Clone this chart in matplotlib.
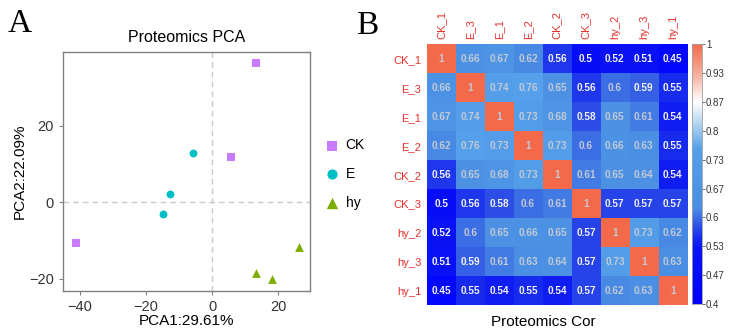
import numpy as np
import matplotlib
matplotlib.use('Agg')
import matplotlib.pyplot as plt
from matplotlib.colors import LinearSegmentedColormap, Normalize

plt.rcParams['font.family'] = ['Liberation Sans', 'DejaVu Sans']

# PCA scores per group
groups = ['CK', 'E', 'hy']
group_colors = ['#C77CFF', '#00BFC4', '#7CAE00']
group_markers = ['s', 'o', '^']
pc1 = {'CK': [13.2, 5.8, -41.4], 'E': [-5.8, -12.7, -14.8], 'hy': [26.4, 13.2, 18.3]}
pc2 = {'CK': [36.2, 11.7, -10.6], 'E': [12.8, 2.1, -3.1], 'hy': [-11.8, -18.4, -20.0]}

# correlation matrix
samples = ['CK_1', 'E_3', 'E_1', 'E_2', 'CK_2', 'CK_3', 'hy_2', 'hy_3', 'hy_1']
cor = np.array([
    [1, 0.66, 0.67, 0.62, 0.56, 0.5, 0.52, 0.51, 0.45],
    [0.66, 1, 0.74, 0.76, 0.65, 0.56, 0.6, 0.59, 0.55],
    [0.67, 0.74, 1, 0.73, 0.68, 0.58, 0.65, 0.61, 0.54],
    [0.62, 0.76, 0.73, 1, 0.73, 0.6, 0.66, 0.63, 0.55],
    [0.56, 0.65, 0.68, 0.73, 1, 0.61, 0.65, 0.64, 0.54],
    [0.5, 0.56, 0.58, 0.6, 0.61, 1, 0.57, 0.57, 0.57],
    [0.52, 0.6, 0.65, 0.66, 0.65, 0.57, 1, 0.73, 0.62],
    [0.51, 0.59, 0.61, 0.63, 0.64, 0.57, 0.73, 1, 0.63],
    [0.45, 0.55, 0.54, 0.55, 0.54, 0.57, 0.62, 0.63, 1],
])
cbar_ticks = np.linspace(0.4, 1, 10)

fig = plt.figure(figsize=(7.29, 3.34), dpi=100)

# ---- panel A: PCA ----
ax = fig.add_axes([63/729, 1 - 291/334, 247/729, 239/334])
ax.axvline(0, color='#C8C8C8', ls=(0, (4, 3)), lw=1, zorder=0)
ax.axhline(0, color='#C8C8C8', ls=(0, (4, 3)), lw=1, zorder=0)
for g, c, m in zip(groups, group_colors, group_markers):
    size = 40 if m == '^' else 32
    ax.scatter(pc1[g], pc2[g], c=c, marker=m, s=size, label=g, linewidths=0)
ax.set_xlim(-45.2, 29.7)
ax.set_ylim(-23.2, 39.2)
ax.set_xticks([-40, -20, 0, 20])
ax.set_yticks([-20, 0, 20])
for s in ax.spines.values():
    s.set_color('#808080')
    s.set_linewidth(1)
ax.tick_params(colors='#808080', labelcolor='#333333', labelsize=10.5, length=3)
ax.set_xlabel('PCA1:29.61%', fontsize=11, labelpad=0)
ax.set_ylabel('PCA2:22.09%', fontsize=11, labelpad=2)
ax.set_title('Proteomics PCA', fontsize=11.5, pad=7)
fig.legend(loc='center left', bbox_to_anchor=(311/729, 1 - 174/334), frameon=False,
           fontsize=10, handletextpad=0.4, labelspacing=1.05, markerscale=1.3,
           handlelength=1.2)

fig.text(8/729, 1 - 8/334, 'A', family='Liberation Serif', fontsize=24, va='top', ha='left')
fig.text(356/729, 1 - 10/334, 'B', family='Liberation Serif', fontsize=24, va='top', ha='left')

# ---- panel B: correlation heatmap ----
cmap = LinearSegmentedColormap.from_list('cor', [
    (0.0, '#0000FF'),
    (0.22, '#0A14F5'),
    (0.30, '#2E50E6'),
    (0.37, '#4A8EE3'),
    (0.60, '#55A0EA'),
    (0.70, '#B8D8F2'),
    (0.78, '#FFFFFF'),
    (0.88, '#F6B3A4'),
    (1.0, '#F4694A'),
])
norm = Normalize(vmin=0.4, vmax=1)
hax = fig.add_axes([426.7/729, 1 - 305/334, 260.6/729, 260.7/334])
im = hax.imshow(cor, cmap=cmap, norm=norm, aspect='auto', interpolation='nearest')
n = len(samples)
for i in range(n):
    for j in range(n):
        v = cor[i, j]
        txt = '1' if v == 1 else f'{v:g}'
        col = '#F2F2F8' if v < 0.595 else '#C3CAD6'
        hax.text(j, i, txt, ha='center', va='center', fontsize=7.2,
                 fontweight='bold', color=col)
hax.set_xticks(range(n))
hax.set_yticks(range(n))
hax.set_xticklabels(samples, rotation=90, color='#E8302A', fontsize=8)
hax.set_yticklabels(samples, color='#E8302A', fontsize=8)
hax.xaxis.tick_top()
hax.tick_params(length=0, pad=4)
for s in hax.spines.values():
    s.set_visible(False)
fig.text(543/729, 1 - 321.7/334, 'Proteomics Cor', ha='center', va='center', fontsize=11)

cax = fig.add_axes([691.7/729, 1 - 304/334, 10/729, 259.7/334])
cb = fig.colorbar(im, cax=cax, ticks=cbar_ticks)
cb.ax.set_yticklabels([f'{t:.2f}'.rstrip('0').rstrip('.') for t in cbar_ticks])
cb.outline.set_edgecolor('#A0A0A0')
cb.outline.set_linewidth(0.6)
cb.ax.tick_params(labelsize=7, length=2, width=0.6, color='#555555', labelcolor='#333333', pad=1)

fig.savefig('out.png', dpi=100)
